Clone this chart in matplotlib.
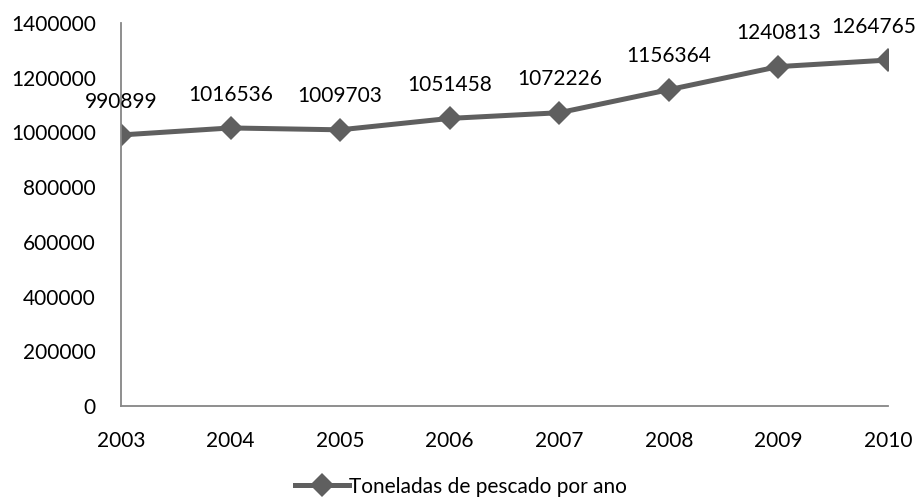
import matplotlib.pyplot as plt

# yearly fish catch in tonnes
anos = ['2003', '2004', '2005', '2006', '2007', '2008', '2009', '2010']
toneladas = [990899, 1016536, 1009703, 1051458, 1072226, 1156364, 1240813, 1264765]
serie = 'Toneladas de pescado por ano'

plt.rcParams['font.family'] = ['Lato', 'DejaVu Sans']
cinza = '#5f5f5f'

fig = plt.figure(figsize=(9.22, 4.98), dpi=100)
ax = fig.add_axes([0.1312, 0.1847, 0.832, 0.769])

x = list(range(len(anos)))
ax.plot(x, toneladas, color=cinza, lw=3.6, marker='D', markersize=12.5,
        markeredgewidth=0, label=serie)

# value labels above each point
for i, v in enumerate(toneladas):
    dx = -10 if i == len(anos) - 1 else 0
    ax.annotate(str(v), (i, v), xytext=(dx, 24), textcoords='offset points',
                ha='center', va='center', fontsize=15, color='black')

ax.set_ylim(0, 1400000)
ax.set_yticks(range(0, 1400001, 200000))
ax.set_yticklabels([str(t) for t in range(0, 1400001, 200000)])
ax.set_xlim(0, len(anos) - 1)
ax.set_xticks(x)
ax.set_xticklabels(anos)

for s in ['top', 'right']:
    ax.spines[s].set_visible(False)
for s in ['left', 'bottom']:
    ax.spines[s].set_color('#868686')
    ax.spines[s].set_linewidth(1.3)
ax.tick_params(axis='both', length=0, labelsize=15, colors='black')
ax.tick_params(axis='x', pad=18)
ax.tick_params(axis='y', pad=18)

fig.legend(loc='lower center', bbox_to_anchor=(0.5, -0.035), frameon=False,
           fontsize=15, handlelength=2.6, handletextpad=0.0)

fig.savefig('out.png', dpi=100)
